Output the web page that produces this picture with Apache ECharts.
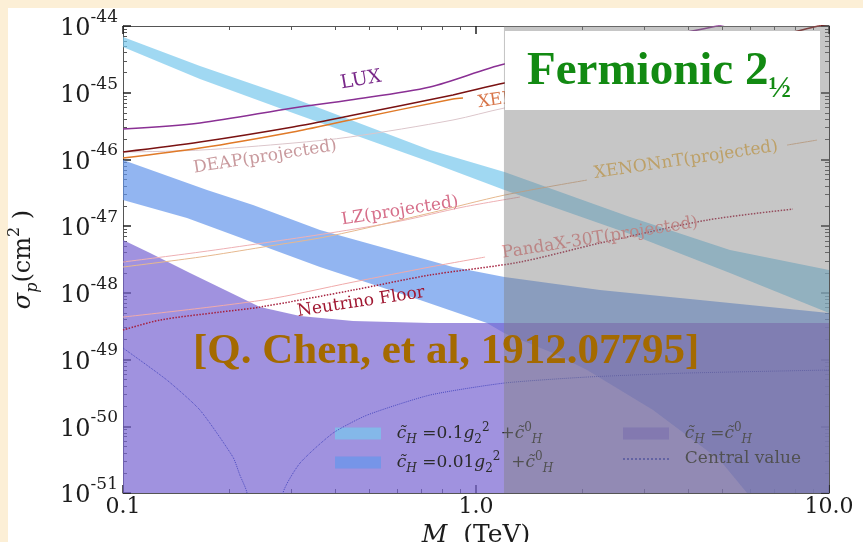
<!DOCTYPE html>
<html>
<head>
<meta charset="utf-8">
<script src="https://cdn.jsdelivr.net/npm/echarts@6/dist/echarts.min.js"></script>
<style>
  html, body { margin: 0; padding: 0; width: 863px; height: 542px; overflow: hidden; background: #fcefd6; }
  #card { position: absolute; left: 8px; top: 8px; right: 0; bottom: 0; background: #ffffff; }
  #chart { position: absolute; left: 0; top: 0; width: 863px; height: 542px; }
</style>
</head>
<body>
<div id="card"></div>
<div id="chart"></div>
<script>
// ---------- axis ranges ----------
const massMin = 0.1, massMax = 10;            // M in TeV
const sigmaMinExp = -51, sigmaMaxExp = -44;   // log10(sigma_p / cm^2)
const shadeFromM = 1.2;                        // start of the shaded mass window (TeV)

// ---------- experimental limits: M (TeV), sigma_p (cm^2) ----------
const luxM = [0.1, 0.1652, 0.3031, 0.4397, 0.7407, 1.204, 2.245, 3.961, 4.816, 6.0];
const luxS = [2.86e-46, 3.52e-46, 5.90e-46, 7.78e-46, 1.22e-45, 2.69e-45, 4.84e-45, 8.13e-45, 1.0e-44, 1.32e-44];

const xenon1tM = [0.1, 0.1652, 0.3031, 0.4397, 0.8606, 1.204, 2.245, 4.312, 7.907, 9.31, 10];
const xenon1tS = [1.29e-46, 1.82e-46, 3.06e-46, 4.50e-46, 9.25e-46, 1.40e-45, 2.51e-45, 4.60e-45, 8.13e-45, 1.0e-44, 1.07e-44];

const pandax2M = [0.1, 0.1652, 0.3031, 0.4397, 0.8606, 0.9188];
const pandax2S = [1.05e-46, 1.48e-46, 2.58e-46, 3.90e-46, 8.05e-46, 8.33e-46];

const deapM = [0.1, 0.1652, 0.3031, 0.4397, 0.8606, 1.204, 1.5];
const deapS = [1.29e-46, 1.38e-46, 1.76e-46, 2.17e-46, 3.90e-46, 5.90e-46, 7.0e-46];

const lzM = [0.1, 0.1652, 0.2493, 0.3859, 0.6091, 0.9188, 1.332];
const lzS = [2.90e-48, 4.09e-48, 5.58e-48, 7.89e-48, 1.19e-47, 1.93e-47, 2.73e-47];

// null marks the gap left for the inline label
const xenonntM = [0.1, 0.1652, 0.2493, 0.3859, 0.7407, 1.204, 2.063, 3.5, 7.603, 9.25];
const xenonntS = [2.44e-48, 3.44e-48, 4.86e-48, 7.11e-48, 1.57e-47, 2.92e-47, 4.91e-47, null, 1.64e-46, 1.95e-46];

const pandax30tM = [0.1, 0.2493, 0.4484, 0.7407, 1.061];
const pandax30tS = [4.34e-49, 7.80e-49, 1.45e-48, 2.44e-48, 3.44e-48];

const nuFloorM = [0.1, 0.1273, 0.1883, 0.2444, 0.4484, 0.7407, 1.332, 2.245, 4.512, 7.907];
const nuFloorS = [2.77e-49, 3.91e-49, 5.15e-49, 6.12e-49, 1.10e-48, 1.85e-48, 2.90e-48, 5.58e-48, 1.23e-47, 1.80e-47];

// ---------- model predictions ----------
// c_H = 0.1 g2^2 + c0_H
const band01UpM = [0.1, 0.1652, 0.3031, 0.7407, 1.204, 2.731, 5.242, 10];
const band01UpS = [6.84e-45, 2.51e-45, 8.33e-46, 1.38e-46, 6.47e-47, 1.37e-47, 4.39e-48, 2.20e-48];
const band01LoM = [0.1, 0.1652, 0.3031, 0.7407, 1.204, 2.731, 5.242, 10];
const band01LoS = [4.84e-45, 1.60e-45, 4.97e-46, 9.14e-47, 3.48e-47, 7.62e-48, 1.98e-48, 4.98e-49];

// c_H = 0.01 g2^2 + c0_H (lower edge drops through zero near 6 TeV)
const band001UpM = [0.1, 0.1730, 0.2335, 0.3614, 0.8606, 1.204, 2.245, 4.312, 10];
const band001UpS = [9.8e-47, 3.48e-47, 2.07e-47, 8.75e-48, 2.44e-48, 1.73e-48, 1.10e-48, 7.80e-49, 4.98e-49];
const band001LoM = [0.1, 0.1518, 0.3614, 0.6941, 1.074, 1.204, 1.652, 2.063, 3.173, 4.912, 5.859, 6.17, 10];
const band001LoS = [2.46e-47, 1.32e-47, 2.44e-48, 7.80e-49, 3.52e-49, 2.49e-49, 1.25e-49, 6.97e-50, 1.75e-50, 3.11e-51, 1.0e-51, 1.0e-52, 1.0e-53];

// c_H = c0_H (filled down to the axis floor)
const bandC0UpM = [0.1, 0.1193, 0.1548, 0.1945, 0.2444, 0.3173, 0.4484, 0.7407, 2.245, 10];
const bandC0UpS = [6.19e-48, 3.95e-48, 1.98e-48, 1.10e-48, 6.12e-49, 4.49e-49, 3.78e-49, 3.52e-49, 3.52e-49, 3.52e-49];
const bandC0LoM = [0.1, 10];
const bandC0LoS = [1.0e-51, 1.0e-51];

// central value (two branches around the sign change of the coupling)
const cvLeftM = [0.1, 0.1332, 0.1652, 0.2049, 0.2143, 0.2245, 0.229];
const cvLeftS = [1.49e-49, 4.93e-50, 1.75e-50, 3.45e-51, 1.86e-51, 1.0e-51, 1.0e-52];
const cvRightM = [0.279, 0.284, 0.3173, 0.3935, 0.4913, 0.7407, 1.204, 2.063, 3.961, 10];
const cvRightS = [1.0e-52, 1.0e-51, 2.81e-51, 7.91e-51, 1.47e-50, 2.94e-50, 4.45e-50, 5.47e-50, 6.28e-50, 6.97e-50];

// ---------- helpers ----------
const L = v => Math.log10(v);
const pairs = (ms, ss) => ms.map((m, i) => ss[i] == null ? [L(m), '-'] : [L(m), L(ss[i])]);

const SERIF = 'DejaVu Serif';
const TXT = '#1c1c1c';

function limitLine(name, ms, ss, color, width, type) {
  return {
    type: 'line', name, data: pairs(ms, ss), symbol: 'none', smooth: 0.3,
    connectNulls: false, silent: true, z: 3,
    lineStyle: { color, width, type: type || 'solid' }, itemStyle: { color }
  };
}

function band(name, upM, upS, loM, loS, color) {
  return {
    type: 'custom', name, coordinateSystem: 'cartesian2d', clip: true, silent: true, z: 2,
    itemStyle: { color },
    data: [[L(upM[0]), L(upS[0])]],
    renderItem(params, api) {
      const pts = [];
      upM.forEach((m, i) => pts.push(api.coord([L(m), L(upS[i])])));
      for (let i = loM.length - 1; i >= 0; i--) pts.push(api.coord([L(loM[i]), L(loS[i])]));
      return { type: 'polygon', shape: { points: pts }, style: { fill: color } };
    }
  };
}

// minor tick positions of a log axis, in decades
function minorTicks(lo, hi) {
  const out = [];
  for (let d = lo; d < hi; d++) for (let k = 2; k <= 9; k++) out.push(d + Math.log10(k));
  return out;
}

const majorTick = { show: true, inside: true, length: 8, lineStyle: { color: '#222', width: 1.5 } };
const frameLine = { show: true, onZero: false, lineStyle: { color: '#555', width: 1 } };

function minorAxis(pos, lo, hi) {
  return {
    type: 'value', position: pos, min: lo, max: hi, interval: 1,
    axisLine: { show: false, onZero: false }, splitLine: { show: false }, axisLabel: { show: false },
    axisTick: { show: true, inside: true, length: 4, customValues: minorTicks(lo, hi),
                lineStyle: { color: '#555', width: 1 } }
  };
}

const mathRich = {
  i:  { fontFamily: SERIF, fontStyle: 'italic', fontSize: 17, lineHeight: 24, verticalAlign: 'middle', color: '#2b2b2b' },
  r:  { fontFamily: SERIF, fontSize: 17, lineHeight: 24, verticalAlign: 'middle', color: '#2b2b2b' },
  sb: { fontFamily: SERIF, fontStyle: 'italic', fontSize: 12, lineHeight: 12, verticalAlign: 'bottom', color: '#2b2b2b' },
  sn: { fontFamily: SERIF, fontSize: 12, lineHeight: 12, verticalAlign: 'bottom', color: '#2b2b2b' },
  sp: { fontFamily: SERIF, fontSize: 12, lineHeight: 12, verticalAlign: 'top', color: '#2b2b2b' }
};
const legendText = {
  band_0p1:  '{r|  }{i|c\u0303}{sb|H}{r| =0.1}{i|g}{sn|2}{sp|2}{r|  +}{i|c\u0303}{sp|0}{sb|H}',
  band_0p01: '{r|  }{i|c\u0303}{sb|H}{r| =0.01}{i|g}{sn|2}{sp|2}{r|  +}{i|c\u0303}{sp|0}{sb|H}',
  band_c0:   '{r|  }{i|c\u0303}{sb|H}{r| =}{i|c\u0303}{sp|0}{sb|H}',
  central:   '{r|  Central value}'
};
function legendBlock(left, items) {
  return {
    left, top: 421.5, orient: 'vertical', padding: 0, itemWidth: 46, itemHeight: 12, itemGap: 5,
    selectedMode: false, z: 3, data: items,
    formatter: n => legendText[n],
    textStyle: { rich: mathRich }
  };
}

// inline curve labels
function curveLabel(text, x, y, deg, color, size, align) {
  return {
    type: 'text', x, y, rotation: deg * Math.PI / 180, z: 4, silent: true,
    style: { text, fill: color, font: `${size}px "${SERIF}"`, align: align || 'center', verticalAlign: 'middle' }
  };
}

const option = {
  animation: false,
  grid: { left: 123, right: 34, top: 26, bottom: 49, containLabel: false, outerBoundsMode: 'none' },
  xAxis: [
    {
      type: 'value', position: 'bottom', min: L(massMin), max: L(massMax), interval: 1,
      axisLine: frameLine, axisTick: majorTick, splitLine: { show: false },
      axisLabel: { margin: 3, fontFamily: SERIF, fontSize: 22, color: TXT,
                   formatter: v => Math.pow(10, v).toFixed(1) },
      name: '{i|M}{r|  (TeV)}', nameLocation: 'middle', nameGap: 27,
      nameTextStyle: { rich: {
        i: { fontFamily: SERIF, fontStyle: 'italic', fontSize: 25, color: TXT },
        r: { fontFamily: SERIF, fontSize: 25, color: TXT } } }
    },
    minorAxis('bottom', L(massMin), L(massMax)),
    {
      type: 'value', position: 'top', min: L(massMin), max: L(massMax), interval: 1,
      axisLine: frameLine, axisTick: majorTick, splitLine: { show: false }, axisLabel: { show: false }
    },
    minorAxis('top', L(massMin), L(massMax))
  ],
  yAxis: [
    {
      type: 'value', position: 'left', min: sigmaMinExp, max: sigmaMaxExp, interval: 1,
      axisLine: frameLine, axisTick: majorTick, splitLine: { show: false },
      axisLabel: {
        margin: 5, padding: [6, 0, 0, 0], formatter: v => `{b|10}{s|${v}}`,
        rich: {
          b: { fontFamily: SERIF, fontSize: 24, lineHeight: 40, verticalAlign: 'middle', color: TXT },
          s: { fontFamily: SERIF, fontSize: 17, lineHeight: 26, verticalAlign: 'top', color: TXT }
        }
      },
      name: '{i|σ}{sb|p}{r|(cm}{sp|2}{r| )}', nameLocation: 'middle', nameGap: 82,
      nameTextStyle: { rich: {
        i: { fontFamily: SERIF, fontStyle: 'italic', fontSize: 24, lineHeight: 34, verticalAlign: 'middle', color: TXT },
        r: { fontFamily: SERIF, fontSize: 24, lineHeight: 34, verticalAlign: 'middle', color: TXT },
        sb: { fontFamily: SERIF, fontStyle: 'italic', fontSize: 16, lineHeight: 16, verticalAlign: 'bottom', color: TXT },
        sp: { fontFamily: SERIF, fontSize: 16, lineHeight: 18, verticalAlign: 'top', color: TXT } } }
    },
    minorAxis('left', sigmaMinExp, sigmaMaxExp),
    {
      type: 'value', position: 'right', min: sigmaMinExp, max: sigmaMaxExp, interval: 1,
      axisLine: frameLine, axisTick: majorTick, splitLine: { show: false }, axisLabel: { show: false }
    },
    minorAxis('right', sigmaMinExp, sigmaMaxExp)
  ],
  legend: [
    legendBlock(335, [{ name: 'band_0p1', icon: 'rect' }, { name: 'band_0p01', icon: 'rect' }]),
    legendBlock(622, [{ name: 'band_c0', icon: 'rect' }, { name: 'central', itemStyle: { opacity: 0 } }])
  ],
  series: [
    band('band_0p1', band01UpM, band01UpS, band01LoM, band01LoS, 'rgba(120,200,236,0.7)'),
    band('band_0p01', band001UpM, band001UpS, band001LoM, band001LoS, 'rgba(100,150,235,0.7)'),
    band('band_c0', bandC0UpM, bandC0UpS, bandC0LoM, bandC0LoS, 'rgba(120,100,210,0.7)'),

    limitLine('DEAP', deapM, deapS, '#dcc6cb', 1),
    limitLine('LZ', lzM, lzS, '#eeb0b4', 1),
    limitLine('XENONnT', xenonntM, xenonntS, '#e6b88e', 1),
    limitLine('PandaX-30T', pandax30tM, pandax30tS, '#f0aaaa', 1),
    limitLine('PandaX-II', pandax2M, pandax2S, '#e07a28', 1.5),
    limitLine('XENON1T', xenon1tM, xenon1tS, '#7a1212', 1.5),
    limitLine('LUX', luxM, luxS, '#8a3094', 1.5),
    limitLine('NeutrinoFloor', nuFloorM, nuFloorS, '#a5203e', 1.5, 'dotted'),
    Object.assign(limitLine('central', cvLeftM, cvLeftS, '#4b4bbf', 1, 'dotted'), { smooth: 0.2 }),
    Object.assign(limitLine('central', cvRightM, cvRightS, '#4b4bbf', 1, 'dotted'), { smooth: 0.2 }),

    {
      type: 'line', name: 'shade', data: [], z: 6, silent: true,
      markArea: {
        silent: true, z: 6,
        itemStyle: { color: 'rgba(128,128,128,0.45)' },
        data: [[{ xAxis: L(shadeFromM), yAxis: sigmaMinExp }, { xAxis: L(massMax), yAxis: sigmaMaxExp }]]
      }
    }
  ],
  graphic: [
    curveLabel('LUX', 361, 80, 10, '#7a2a8a', 19),
    curveLabel('XENON1T', 478, 103, 8.5, '#d8764a', 17, 'left'),
    curveLabel('DEAP(projected)', 265, 157, 9, '#c99a9e', 17),
    curveLabel('LZ(projected)', 400, 211, 9, '#d66f8a', 17),
    curveLabel('XENONnT(projected)', 686, 160, 8.5, '#eebb55', 17),
    curveLabel('PandaX-30T(projected)', 600, 238, 9, '#ec8a8a', 17),
    curveLabel('Neutrino Floor', 361, 302, 8.5, '#a01832', 17),
    {
      type: 'rect', z: 20, silent: true,
      shape: { x: 505, y: 31, width: 315, height: 79 },
      style: { fill: '#ffffff' }
    },
    {
      type: 'text', x: 527, y: 72, z: 21, silent: true,
      style: {
        text: '{a|Fermionic 2}{b|½}', align: 'left', verticalAlign: 'middle',
        rich: {
          a: { fontFamily: 'Liberation Serif', fontWeight: 'bold', fontSize: 47, lineHeight: 64, verticalAlign: 'middle', fill: '#128a12', color: '#128a12' },
          b: { fontFamily: 'Liberation Serif', fontWeight: 'bold', fontSize: 30, lineHeight: 30, verticalAlign: 'bottom', fill: '#128a12', color: '#128a12' }
        }
      }
    },
    {
      type: 'text', x: 193, y: 352, z: 21, silent: true,
      style: {
        text: '[Q. Chen, et al, 1912.07795]', fill: '#a46a00',
        font: 'bold 43px "Liberation Serif"', align: 'left', verticalAlign: 'middle'
      }
    }
  ]
};

const chart = echarts.init(document.getElementById('chart'));
chart.setOption(option);
</script>
</body>
</html>
